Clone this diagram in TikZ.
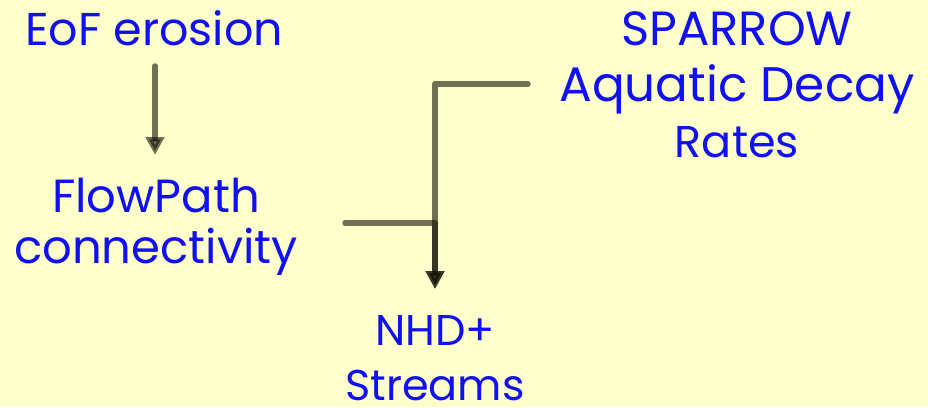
\documentclass[tikz,border=0pt]{standalone}
\usepackage{fontspec}
\setmainfont{Poppins}
\usetikzlibrary{arrows.meta}
\definecolor{bg}{RGB}{255,255,204}
\definecolor{txt}{RGB}{16,16,240}
\definecolor{conncol}{RGB}{17,17,6}
\newcommand{\fs}[2]{\fontsize{#1}{#2}\selectfont}
\tikzset{
  lbl/.style={text=txt, font=\fs{47}{56}, align=center, inner sep=0pt, anchor=base},
  conn/.style={draw=conncol, draw opacity=0.6, fill opacity=0.6, line width=5.5pt, line cap=round, line join=round,
    -{Triangle[length=18pt 0 0,width=18pt 0 0]}}
}
\begin{document}
\begin{tikzpicture}[x=1pt,y=-1pt]
\fill[bg] (0,0) rectangle (928,407);
\useasboundingbox (0,0) rectangle (928,407);
\node[lbl, font=\fs{46}{56}] (eof) at (154,45) {EoF erosion};
\node[lbl, font=\fs{46.5}{51}] (flow) at (156,263) {FlowPath\\connectivity};
\node[lbl] (spar) at (737,157) {\fs{48}{56}SPARROW\\\fs{48.5}{56}Aquatic Decay\\\fs{44.5}{57}Rates};
\node[lbl, font=\fs{43}{55}] (nhd) at (435,400) {NHD+\\Streams};
\coordinate (e1) at (155,66);
\coordinate (e2) at (155,155);
\coordinate (f1) at (345,223);
\coordinate (s1) at (528,84);
\coordinate (n1) at (435,289);
\draw[conn] (e1) -- (e2);
\draw[conn] (f1) -| (n1);
\draw[conn] (s1) -| (n1);
\end{tikzpicture}
\end{document}
